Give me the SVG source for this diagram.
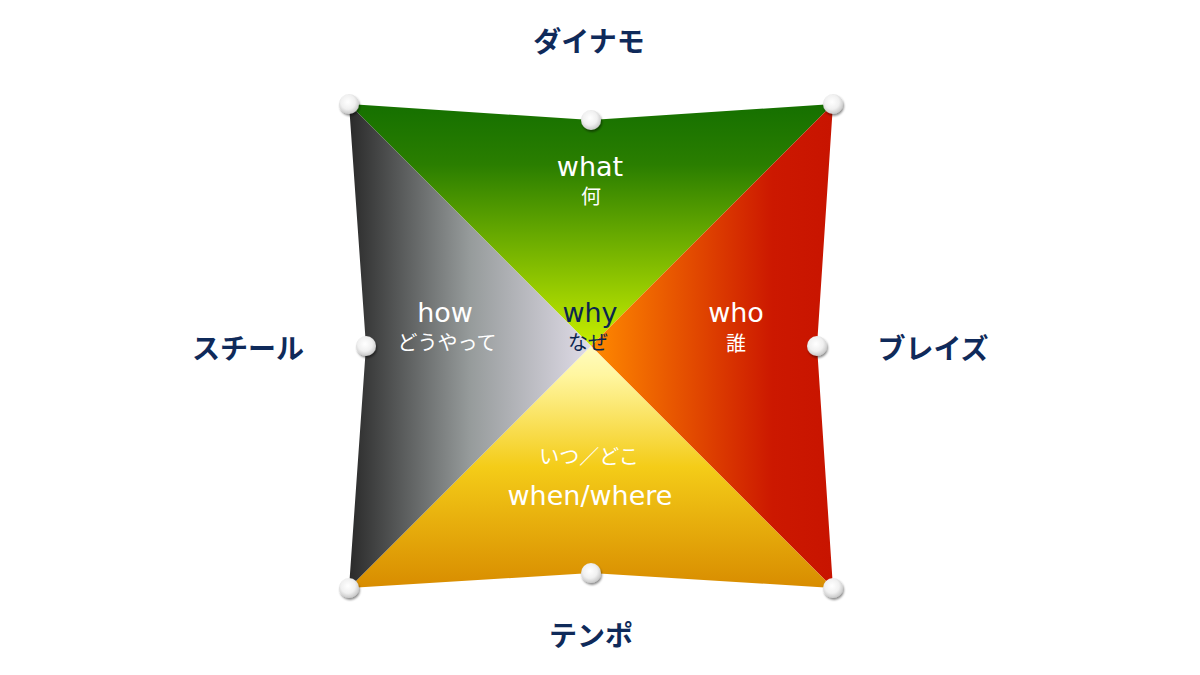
<svg xmlns="http://www.w3.org/2000/svg" width="1200" height="675" viewBox="0 0 1200 675">
<defs>
<linearGradient id="gTop" x1="0" y1="104" x2="0" y2="346" gradientUnits="userSpaceOnUse">
<stop offset="0" stop-color="#157000"/><stop offset="0.25" stop-color="#2a7e00"/><stop offset="1" stop-color="#c8ee00"/>
</linearGradient>
<linearGradient id="gRight" x1="591" y1="0" x2="833" y2="0" gradientUnits="userSpaceOnUse">
<stop offset="0" stop-color="#ff8a00"/><stop offset="0.75" stop-color="#cc1800"/><stop offset="1" stop-color="#c81400"/>
</linearGradient>
<linearGradient id="gBottom" x1="0" y1="346" x2="0" y2="588" gradientUnits="userSpaceOnUse">
<stop offset="0" stop-color="#fffcc0"/><stop offset="0.12" stop-color="#fff6a0"/><stop offset="0.5" stop-color="#f4cc18"/><stop offset="1" stop-color="#d88c00"/>
</linearGradient>
<linearGradient id="gLeft" x1="349" y1="0" x2="591" y2="0" gradientUnits="userSpaceOnUse">
<stop offset="0" stop-color="#2a2a2a"/><stop offset="0.5" stop-color="#969b9b"/><stop offset="1" stop-color="#e0dce8"/>
</linearGradient>
<radialGradient id="gDot" cx="0.45" cy="0.4" r="0.6">
<stop offset="0" stop-color="#ffffff"/><stop offset="0.6" stop-color="#f0f0f0"/><stop offset="1" stop-color="#c8c8c8"/>
</radialGradient>
<filter id="sh" x="-50%" y="-50%" width="200%" height="200%">
<feDropShadow dx="1" dy="2" stdDeviation="1.2" flood-color="#000" flood-opacity="0.45"/>
</filter>
</defs>
<style>
.w{font-family:"DejaVu Sans","Noto Sans CJK JP",sans-serif;fill:#ffffff;text-anchor:middle}
.n{font-family:"DejaVu Sans","Noto Sans CJK JP",sans-serif;fill:#0a2550;text-anchor:middle}
.en{font-size:27px}
.jp{font-family:"Noto Sans CJK JP",sans-serif;font-size:20px}
.lbl{font-family:"Noto Sans CJK JP",sans-serif;font-weight:bold;font-size:28px;fill:#0f2a5a;text-anchor:middle}
.dot{fill:url(#gDot);filter:url(#sh)}
</style>
<g id="quad-what">
<polygon points="349,104 591,120 833,104 591,346" fill="url(#gTop)"/>
<text class="w en" x="590" y="176">what</text>
<text class="w jp" x="591" y="204">何</text>
</g>
<g id="quad-who">
<polygon points="833,104 817,346 833,588 591,346" fill="url(#gRight)"/>
<text class="w en" x="736" y="322">who</text>
<text class="w jp" x="736" y="351">誰</text>
</g>
<g id="quad-when">
<polygon points="349,588 591,573 833,588 591,346" fill="url(#gBottom)"/>
<text class="w jp" x="589" y="464">いつ／どこ</text>
<text class="w en" x="590" y="505">when/where</text>
</g>
<g id="quad-how">
<polygon points="349,104 366,346 349,588 591,346" fill="url(#gLeft)"/>
<text class="w en" x="445" y="322">how</text>
<text class="w jp" x="447" y="350">どうやって</text>
</g>
<g id="center-why">
<text class="n en" x="590" y="322">why</text>
<text class="n jp" x="588" y="350">なぜ</text>
</g>
<g id="dots">
<circle class="dot" cx="349" cy="104" r="10"/>
<circle class="dot" cx="591" cy="120" r="10"/>
<circle class="dot" cx="833" cy="104" r="10"/>
<circle class="dot" cx="366" cy="346" r="10"/>
<circle class="dot" cx="817" cy="346" r="10"/>
<circle class="dot" cx="349" cy="588" r="10"/>
<circle class="dot" cx="591" cy="573" r="10"/>
<circle class="dot" cx="833" cy="588" r="10"/>
</g>
<g id="label-top"><text class="lbl" x="589" y="52">ダイナモ</text></g>
<g id="label-left"><text class="lbl" x="248" y="359">スチール</text></g>
<g id="label-right"><text class="lbl" x="933" y="359">ブレイズ</text></g>
<g id="label-bottom"><text class="lbl" x="591" y="646">テンポ</text></g>
</svg>
